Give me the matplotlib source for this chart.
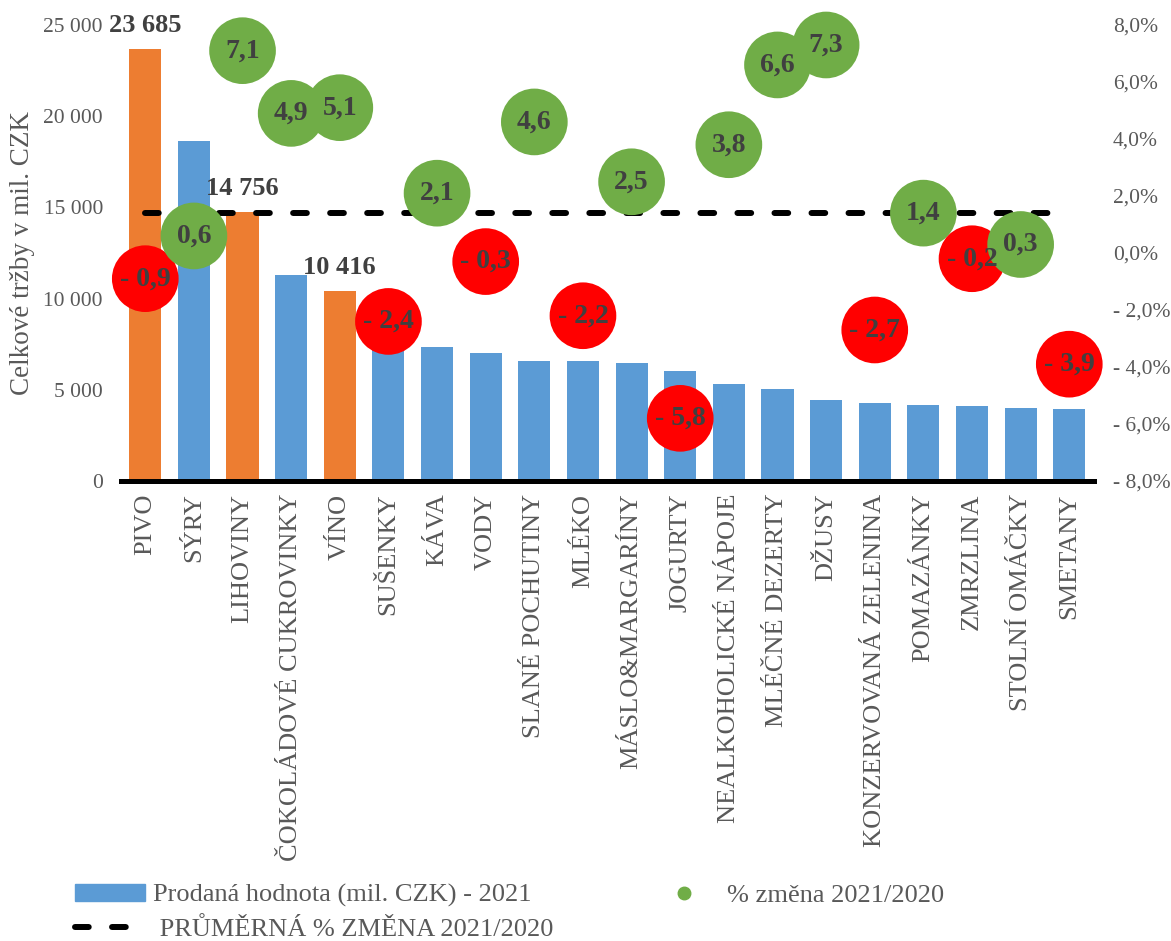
import matplotlib.pyplot as plt
from matplotlib.lines import Line2D
from matplotlib.patches import Patch

plt.rcParams['font.family'] = ['Liberation Serif', 'DejaVu Serif']

# data
categories = ["PIVO", "SÝRY", "LIHOVINY", "ČOKOLÁDOVÉ CUKROVINKY", "VÍNO", "SUŠENKY",
              "KÁVA", "VODY", "SLANÉ POCHUTINY", "MLÉKO", "MÁSLO&MARGARÍNY", "JOGURTY",
              "NEALKOHOLICKÉ NÁPOJE", "MLÉČNÉ DEZERTY", "DŽUSY", "KONZERVOVANÁ ZELENINA",
              "POMAZÁNKY", "ZMRZLINA", "STOLNÍ OMÁČKY", "SMETANY"]
sales = [23685, 18640, 14756, 11290, 10416, 7600, 7350, 7000, 6600, 6580,
         6470, 6030, 5300, 5060, 4440, 4260, 4170, 4100, 4000, 3930]
change = [-0.9, 0.6, 7.1, 4.9, 5.1, -2.4, 2.1, -0.3, 4.6, -2.2,
          2.5, -5.8, 3.8, 6.6, 7.3, -2.7, 1.4, -0.2, 0.3, -3.9]
avg_change = 1.4
alcohol = ["PIVO", "LIHOVINY", "VÍNO"]

blue = "#5B9BD5"
orange = "#ED7D31"
green = "#70AD47"
red = "#FF0000"
gray = "#595959"
dark = "#404040"
dash = (0, (2.3, 3.9))

fig = plt.figure(figsize=(11.71, 9.41), dpi=100)
ax = fig.add_axes([0.1033, 0.4888, 0.8306, 0.4846])

x = list(range(len(categories)))
colors = [orange if c in alcohol else blue for c in categories]
ax.bar(x, sales, width=0.66, color=colors, zorder=2)

for i, c in enumerate(categories):
    if c in alcohol:
        ax.text(i, sales[i] + 650, f"{sales[i]:,}".replace(",", " "), ha="center", va="bottom",
                fontsize=19, fontweight="bold", color=dark)

ax.set_xlim(-0.5, len(categories) - 0.5)
ax.set_ylim(0, 25000)
ax.set_yticks(range(0, 25001, 5000))
ax.set_yticklabels([f"{v:,}".replace(",", " ") for v in range(0, 25001, 5000)])
ax.set_xticks(x)
ax.set_xticklabels(categories, rotation=90, fontsize=19, color=gray)
ax.tick_params(axis="y", length=0, labelsize=15.5, labelcolor=gray, pad=13)
ax.tick_params(axis="x", length=0, pad=9)
ax.set_ylabel("Celkové tržby v mil. CZK", fontsize=19.5, color=gray, labelpad=6)
for s in ["top", "right", "left"]:
    ax.spines[s].set_visible(False)
ax.spines["bottom"].set_linewidth(3.6)
ax.spines["bottom"].set_zorder(5)

ax2 = ax.twinx()
ax2.set_ylim(-8, 8)
pct_ticks = list(range(-8, 9, 2))
ax2.set_yticks(pct_ticks)
ax2.set_yticklabels([("- " if v < 0 else "") + f"{abs(v):.1f}".replace(".", ",") + "%" for v in pct_ticks])
ax2.tick_params(axis="y", length=0, labelsize=15.5, labelcolor=gray, pad=14)
for s in ax2.spines.values():
    s.set_visible(False)

ax2.plot(x, [avg_change] * len(x), color="black", lw=4.3, ls=dash,
         dash_capstyle="round", zorder=2)
ax2.scatter(x, change, s=48 ** 2, c=[green if v >= 0 else red for v in change],
            zorder=3, clip_on=False, linewidths=0)
for i, v in enumerate(change):
    lbl = ("- " if v < 0 else "") + f"{abs(v):.1f}".replace(".", ",")
    ax2.text(i, v, lbl, ha="center", va="center", fontsize=20, fontweight="bold",
             color=dark, zorder=4)

handles = [Patch(color=blue),
           Line2D([], [], color="black", lw=4.3, ls=dash, dash_capstyle="round"),
           Line2D([], [], marker="o", ls="none", color=green, markersize=9)]
labels = ["Prodaná hodnota (mil. CZK) - 2021", " PRŮMĚRNÁ % ZMĚNA 2021/2020", "% změna 2021/2020"]
leg = fig.legend(handles, labels, loc="lower left", bbox_to_anchor=(0.064, 0.0), ncol=2,
                 frameon=False, fontsize=19, handlelength=2.65, columnspacing=3.65,
                 labelspacing=0.4, handleheight=0.6, handletextpad=0.3,
                 borderpad=0, borderaxespad=0)
for t in leg.get_texts():
    t.set_color(gray)

fig.savefig("out.png", dpi=100)
